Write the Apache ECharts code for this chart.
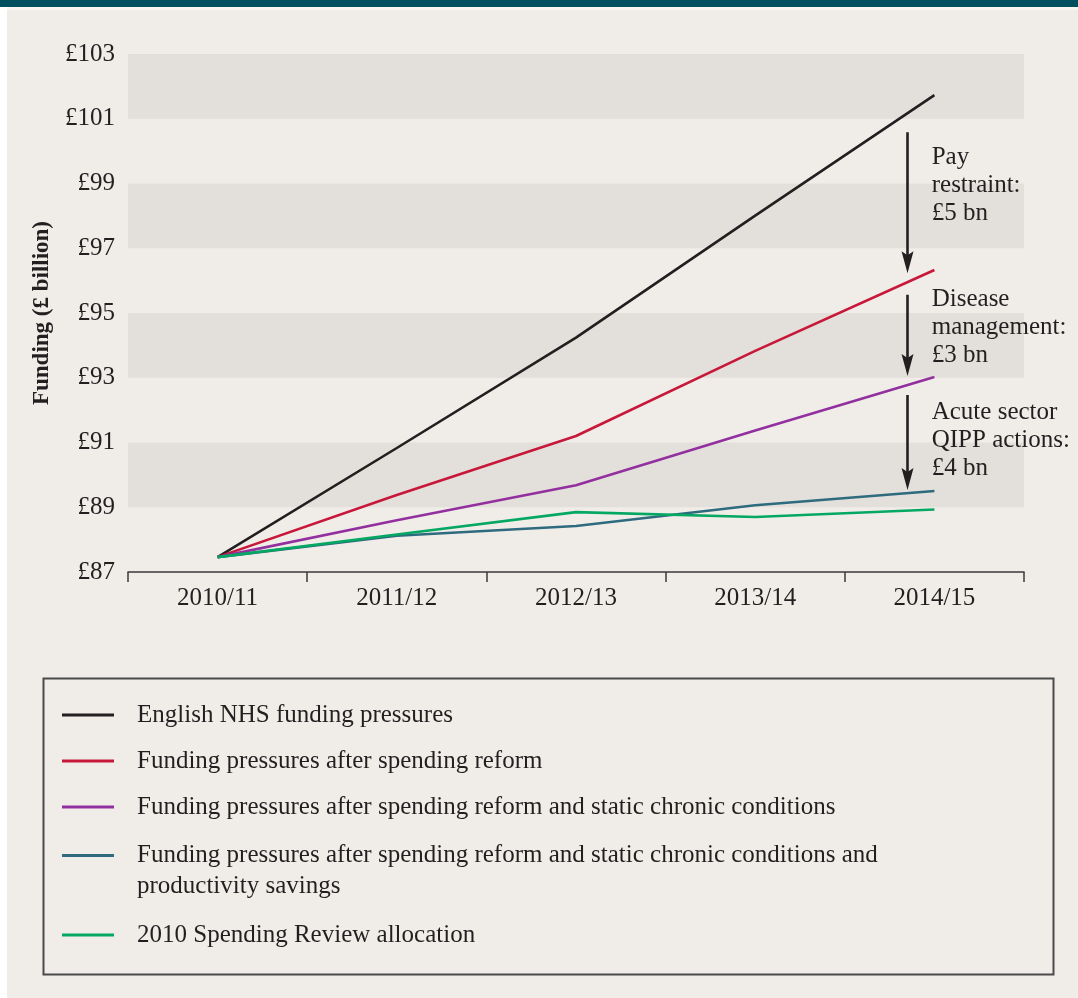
<!DOCTYPE html>
<html>
<head>
<meta charset="utf-8">
<title>English NHS funding pressures</title>
<script src="https://cdn.jsdelivr.net/npm/echarts@6/dist/echarts.min.js"></script>
<style>
  html, body { margin: 0; padding: 0; background: #ffffff; }
  #chart { width: 1078px; height: 998px; }
</style>
</head>
<body>
<div id="chart"></div>
<script>
// Financial years on the horizontal axis
const years = ['2010/11', '2011/12', '2012/13', '2013/14', '2014/15'];

// Funding, £ billion
const seriesNames = [
  'English NHS funding pressures',
  'Funding pressures after spending reform',
  'Funding pressures after spending reform and static chronic conditions',
  'Funding pressures after spending reform and static chronic conditions and productivity savings',
  '2010 Spending Review allocation'
];
const nhsPressures      = [87.46, 90.83, 94.24, 98.01, 101.73];
const afterReform       = [87.46, 89.38, 91.20, 93.83, 96.33];
const afterChronic      = [87.46, 88.60, 89.68, 91.37, 93.02];
const afterProductivity = [87.46, 88.12, 88.42, 89.06, 89.50];
const spendingReview    = [87.46, 88.16, 88.85, 88.70, 88.93];

// Y axis ticks
const yMin = 87, yMax = 103, yStep = 2;

// Savings arrows: [x position on year index scale, from value, to value]
const savingsArrows = [
  [3.85, 100.58, 96.57],
  [3.85, 95.56, 93.39],
  [3.85, 92.47, 89.87]
];
// Savings notes: [x, top value, text]
const savingsNotes = [
  [3.985, 100.25, 'Pay\nrestraint:\n£5 bn'],
  [3.985, 95.86, 'Disease\nmanagement:\n£3 bn'],
  [3.985, 92.36, 'Acute sector\nQIPP actions:\n£4 bn']
];
// Wrapped legend text for the long fourth series name
const longLegendText = 'Funding pressures after spending reform and static chronic conditions and\nproductivity savings';

const colors = ['#231f20', '#c8183a', '#93309f', '#2e6b7e', '#05a862'];
const serif = '"Liberation Serif", "DejaVu Serif", serif';
const ink = '#231f20';

const chart = echarts.init(document.getElementById('chart'), null, { renderer: 'canvas' });

const lineSeries = [nhsPressures, afterReform, afterChronic, afterProductivity, spendingReview]
  .map((values, i) => ({
    type: 'line',
    name: seriesNames[i],
    data: values,
    xAxisIndex: 0,
    yAxisIndex: 0,
    symbol: 'none',
    z: 3,
    lineStyle: { color: colors[i], width: 2.6 },
    itemStyle: { color: colors[i] }
  }));

const legendBase = {
  orient: 'vertical',
  left: 62,
  padding: 0,
  icon: 'rect',
  itemWidth: 52,
  itemHeight: 3,
  itemGap: 14,
  selectedMode: false,
  textStyle: {
    fontFamily: serif,
    fontSize: 25,
    color: ink,
    lineHeight: 32,
    padding: [0, 0, 0, 18]
  }
};

const option = {
  backgroundColor: '#f0ede9',
  animation: false,
  color: colors,
  grid: { left: 128, right: 54, top: 54, bottom: 426, containLabel: false },
  xAxis: [
    {
      type: 'category',
      data: years,
      boundaryGap: true,
      axisLine: { show: true, lineStyle: { color: '#3a3a3a', width: 1.5 } },
      axisTick: { show: true, length: 10, inside: false, lineStyle: { color: '#3a3a3a', width: 1.5 } },
      axisLabel: { fontFamily: serif, fontSize: 25, color: ink, margin: 14 },
      splitLine: { show: false }
    },
    {
      type: 'value',
      min: -0.5,
      max: 4.5,
      show: false
    }
  ],
  yAxis: {
    type: 'value',
    min: yMin,
    max: yMax,
    interval: yStep,
    name: 'Funding (£ billion)',
    nameLocation: 'middle',
    nameGap: 74,
    nameTextStyle: { fontFamily: serif, fontSize: 23, fontWeight: 'bold', color: ink },
    axisLine: { show: false },
    axisTick: { show: false },
    splitLine: { show: false },
    splitArea: { show: true, areaStyle: { color: ['rgba(0,0,0,0)', '#e3dfda'] } },
    axisLabel: {
      fontFamily: serif, fontSize: 25, color: ink, margin: 13,
      formatter: v => '£' + v
    }
  },
  legend: [
    Object.assign({}, legendBase, {
      top: 699,
      data: seriesNames.slice(0, 3)
    }),
    Object.assign({}, legendBase, {
      top: 809,
      data: [seriesNames[3]],
      formatter: () => '\n' + longLegendText,
      textStyle: Object.assign({}, legendBase.textStyle, { lineHeight: 31 })
    }),
    Object.assign({}, legendBase, {
      top: 919,
      data: [seriesNames[4]]
    })
  ],
  graphic: [
    { type: 'rect', left: 0, top: 0, shape: { width: 7, height: 998 }, style: { fill: '#ffffff' }, silent: true },
    { type: 'rect', left: 0, top: 0, shape: { width: 1078, height: 7 }, style: { fill: '#004f5e' }, silent: true },
    { type: 'rect', left: 7, top: 7, shape: { width: 1071, height: 3 }, style: { fill: '#f7f5f2' }, silent: true },
    {
      type: 'rect', left: 41, top: 676,
      shape: { width: 1010, height: 296 },
      style: { fill: 'none', stroke: '#4a4a4a', lineWidth: 2 },
      silent: true
    }
  ],
  series: lineSeries.concat([
    {
      type: 'lines',
      coordinateSystem: 'cartesian2d',
      xAxisIndex: 1,
      yAxisIndex: 0,
      silent: true,
      z: 4,
      symbol: ['none', 'path://M11,0L17,22L11,18L5,22Z M0,0L0.01,0 M22,22L22.01,22'],
      symbolSize: [0, 22],
      lineStyle: { color: ink, width: 2.6, opacity: 1 },
      itemStyle: { color: ink },
      data: savingsArrows.map(a => ({ coords: [[a[0], a[1]], [a[0], a[2]]] }))
    },
    {
      type: 'scatter',
      xAxisIndex: 1,
      yAxisIndex: 0,
      silent: true,
      symbolSize: 0,
      itemStyle: { opacity: 1, color: ink },
      data: savingsNotes.map(n => ({ name: n[2], value: [n[0], n[1]] })),
      label: {
        show: true,
        position: [0, 0],
        align: 'left',
        verticalAlign: 'top',
        fontFamily: serif,
        fontSize: 25,
        lineHeight: 28,
        color: ink,
        opacity: 1,
        formatter: p => p.name
      }
    }
  ])
};

chart.setOption(option);
</script>
</body>
</html>
